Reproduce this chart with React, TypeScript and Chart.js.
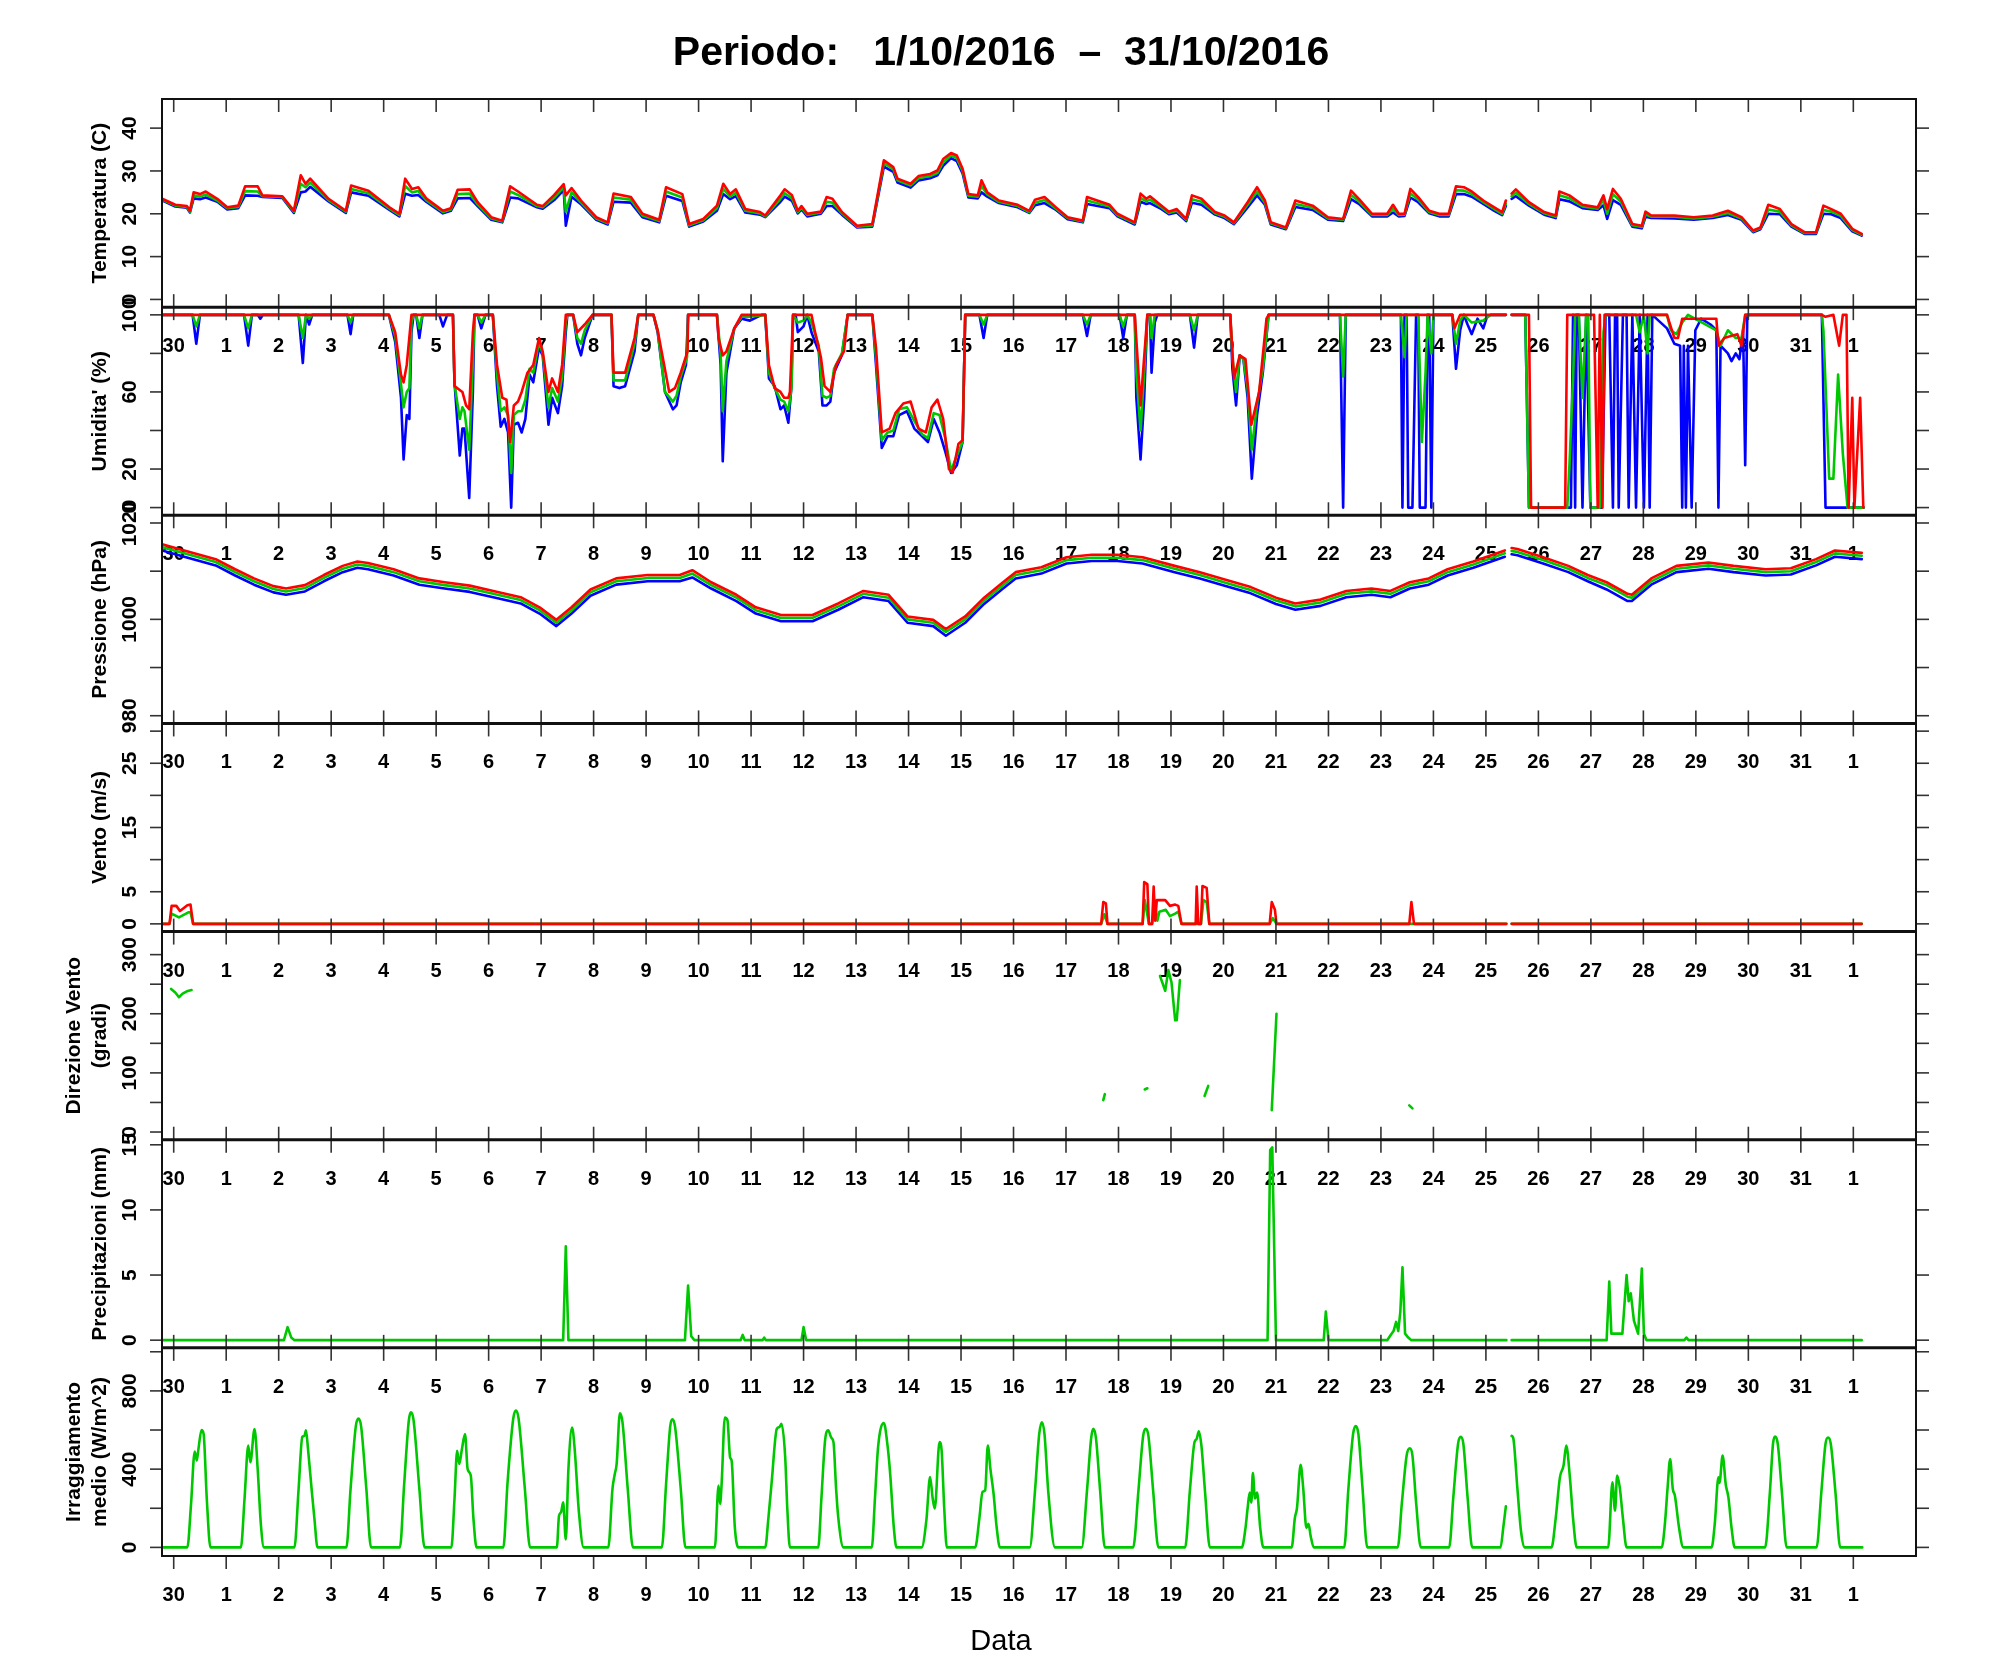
import React, { useEffect, useRef } from 'react';
import { Chart, registerables } from 'chart.js';
Chart.register(...registerables);

type P = [number, number | null];

// ---------- x axis (days; 0 = 30 Sep 00:00, 1 = 1 Oct, ... 32 = 1 Nov) ----------
const dayLabels = ['30','1','2','3','4','5','6','7','8','9','10','11','12','13','14','15','16','17','18','19','20','21','22','23','24','25','26','27','28','29','30','31','1'];
const xMin = -0.223;
const xMax = 33.194;

// ---------- y ticks / labels per panel ----------
const tempTicks = [0, 10, 20, 30, 40];
const tempLabels = [0, 10, 20, 30, 40];
const humTicks = [0, 20, 40, 60, 80, 100];
const humLabels = [0, 20, 60, 100];
const presTicks = [980, 990, 1000, 1010, 1020];
const presLabels = [980, 1000, 1020];
const windTicks = [0, 5, 10, 15, 20, 25, 30];
const windLabels = [0, 5, 15, 25];
const dirTicks = [0, 50, 100, 150, 200, 250, 300];
const dirLabels = [0, 100, 200, 300];
const rainTicks = [0, 5, 10, 15];
const rainLabels = [0, 5, 10, 15];
const irrTicks = [0, 200, 400, 600, 800, 1000];
const irrLabels = [0, 400, 800];

// ---------- Temperature (C) ----------
const tempTime = [
  -0.22, 0.03, 0.25, 0.31, 0.38, 0.50, 0.61, 0.83, 1.02, 1.23,
  1.36, 1.60, 1.69, 2.07, 2.29, 2.42, 2.51, 2.60, 2.95, 3.28,
  3.38, 3.71, 4.11, 4.30, 4.41, 4.54, 4.66, 4.81, 5.13, 5.28,
  5.41, 5.64, 5.79, 6.05, 6.26, 6.41, 6.56, 6.92, 7.03, 7.25,
  7.43, 7.47, 7.58, 7.76, 8.05, 8.27, 8.38, 8.71, 8.93, 9.25,
  9.38, 9.69, 9.82, 10.09, 10.35, 10.47, 10.60, 10.71, 10.89, 11.17,
  11.27, 11.56, 11.64, 11.78, 11.89, 11.96, 12.07, 12.33, 12.44, 12.55,
  12.73, 13.02, 13.31, 13.53, 13.71, 13.79, 14.04, 14.19, 14.41, 14.55,
  14.66, 14.81, 14.92, 15.03, 15.14, 15.32, 15.39, 15.50, 15.72, 16.08,
  16.30, 16.41, 16.59, 16.81, 17.03, 17.32, 17.40, 17.83, 17.98, 18.31,
  18.42, 18.53, 18.60, 18.82, 18.96, 19.11, 19.29, 19.40, 19.58, 19.84,
  20.02, 20.20, 20.46, 20.64, 20.79, 20.90, 21.19, 21.37, 21.70, 21.99,
  22.28, 22.43, 22.58, 22.83, 23.12, 23.23, 23.34, 23.45, 23.56, 23.71,
  23.92, 24.11, 24.29, 24.43, 24.58, 24.73, 24.95, 25.16, 25.31, 25.38,
  25.44, 25.49, 25.57, 25.82, 26.11, 26.33, 26.40, 26.59, 26.84, 27.13,
  27.24, 27.31, 27.42, 27.57, 27.79, 27.97, 28.04, 28.15, 28.59, 28.96,
  29.32, 29.61, 29.87, 30.09, 30.23, 30.38, 30.60, 30.82, 31.07, 31.29,
  31.43, 31.58, 31.76, 31.98, 32.16,
];
const tempMax = [
  23.5, 22.1, 21.8, 20.7, 25.0, 24.6, 25.2, 23.5, 21.5, 21.9,
  26.4, 26.4, 24.3, 24.1, 20.7, 29.0, 27.0, 28.2, 23.5, 20.7,
  26.6, 25.4, 21.5, 20.0, 28.2, 25.8, 26.2, 23.6, 20.7, 21.3,
  25.6, 25.7, 22.7, 19.2, 18.4, 26.4, 25.2, 22.1, 21.8, 24.4,
  26.9, 24.3, 26.0, 23.1, 19.2, 18.0, 24.7, 23.9, 20.0, 18.6,
  26.2, 24.6, 17.6, 18.8, 21.9, 27.0, 24.6, 25.7, 21.1, 20.4,
  19.6, 24.3, 25.7, 24.3, 20.7, 21.8, 20.0, 20.5, 23.9, 23.5,
  20.4, 17.2, 17.6, 32.5, 30.9, 28.2, 27.0, 28.8, 29.3, 30.1,
  32.8, 34.2, 33.6, 30.5, 24.6, 24.3, 27.8, 25.0, 23.1, 22.1,
  20.7, 23.3, 23.9, 21.5, 19.2, 18.4, 23.9, 22.1, 20.0, 18.0,
  24.7, 23.5, 24.1, 21.9, 20.5, 21.1, 18.8, 24.3, 23.5, 20.4,
  19.6, 18.0, 22.7, 26.2, 23.1, 18.0, 16.8, 23.1, 21.9, 19.2,
  18.8, 25.4, 23.5, 20.0, 20.0, 22.1, 20.0, 20.0, 25.8, 23.9,
  20.7, 20.0, 20.0, 26.4, 26.2, 25.2, 23.1, 21.5, 20.4, 23.1,
  null, 24.7, 25.7, 22.7, 20.4, 19.6, 25.2, 24.3, 22.1, 21.5,
  24.3, 21.1, 25.8, 23.5, 17.6, 17.2, 20.5, 19.6, 19.6, 19.2,
  19.6, 20.7, 19.2, 16.1, 16.8, 22.1, 21.1, 17.6, 15.7, 15.7,
  21.9, 21.1, 20.0, 16.5, 15.3,
];
const tempMean = [
  23.3, 21.9, 21.6, 20.5, 24.3, 24.0, 24.5, 23.1, 21.3, 21.6,
  25.3, 25.2, 24.1, 23.9, 20.5, 27.0, 26.2, 27.3, 23.2, 20.5,
  25.8, 24.8, 21.2, 19.7, 26.5, 25.0, 25.3, 23.2, 20.4, 21.0,
  24.6, 24.7, 22.2, 18.9, 18.2, 25.2, 24.4, 21.8, 21.5, 23.8,
  26.2, 20.5, 25.0, 22.6, 18.9, 17.8, 23.8, 23.3, 19.6, 18.3,
  25.2, 23.8, 17.3, 18.5, 21.3, 25.8, 24.0, 24.9, 20.7, 20.1,
  19.4, 23.5, 24.8, 23.6, 20.4, 21.4, 19.7, 20.3, 22.8, 22.6,
  20.1, 17.0, 17.3, 31.8, 30.4, 27.8, 26.6, 28.3, 28.8, 29.5,
  32.0, 33.6, 33.0, 30.0, 24.2, 24.0, 26.5, 24.5, 22.8, 21.8,
  20.4, 22.6, 23.2, 21.2, 19.0, 18.2, 23.1, 21.7, 19.7, 17.8,
  23.7, 22.9, 23.3, 21.5, 20.2, 20.7, 18.6, 23.4, 22.8, 20.1,
  19.3, 17.8, 22.1, 25.2, 22.6, 17.8, 16.6, 22.3, 21.4, 18.9,
  18.6, 24.4, 22.9, 19.7, 19.7, 21.2, 19.7, 19.8, 24.8, 23.3,
  20.4, 19.7, 19.7, 25.5, 25.4, 24.6, 22.7, 21.1, 20.0, 22.4,
  null, 24.1, 24.9, 22.3, 20.1, 19.3, 24.3, 23.6, 21.7, 21.2,
  23.2, 20.0, 24.6, 22.8, 17.3, 16.9, 19.9, 19.3, 19.3, 18.9,
  19.3, 20.2, 18.9, 15.9, 16.6, 21.0, 20.5, 17.3, 15.5, 15.5,
  20.9, 20.5, 19.5, 16.2, 15.1,
];
const tempMin = [
  23.1, 21.7, 21.4, 20.3, 23.6, 23.4, 23.8, 22.8, 21.0, 21.3,
  24.3, 24.2, 23.9, 23.7, 20.2, 25.0, 25.2, 26.3, 22.9, 20.2,
  25.0, 24.2, 20.9, 19.4, 24.7, 24.2, 24.4, 22.8, 20.1, 20.7,
  23.6, 23.7, 21.8, 18.6, 18.0, 23.8, 23.6, 21.5, 21.2, 23.2,
  25.5, 17.2, 24.0, 22.2, 18.6, 17.5, 22.8, 22.6, 19.2, 18.0,
  24.2, 23.0, 17.0, 18.2, 20.7, 24.6, 23.4, 24.1, 20.3, 19.8,
  19.2, 22.8, 24.0, 23.0, 20.1, 21.0, 19.4, 20.0, 21.8, 21.8,
  19.8, 16.8, 17.0, 31.0, 29.8, 27.3, 26.1, 27.8, 28.3, 29.0,
  31.2, 33.0, 32.3, 29.4, 23.8, 23.6, 25.0, 24.0, 22.5, 21.5,
  20.2, 22.0, 22.5, 20.9, 18.7, 18.0, 22.3, 21.3, 19.4, 17.5,
  22.8, 22.3, 22.5, 21.1, 19.9, 20.3, 18.3, 22.6, 22.1, 19.8,
  19.0, 17.6, 21.5, 24.3, 22.1, 17.5, 16.4, 21.6, 20.9, 18.6,
  18.3, 23.4, 22.3, 19.4, 19.4, 20.3, 19.4, 19.5, 23.8, 22.7,
  20.1, 19.4, 19.4, 24.6, 24.6, 24.0, 22.3, 20.7, 19.7, 21.8,
  null, 23.5, 24.1, 21.9, 19.8, 19.0, 23.4, 22.9, 21.3, 20.9,
  22.0, 18.8, 23.2, 22.1, 17.0, 16.6, 19.3, 19.0, 18.9, 18.6,
  19.0, 19.7, 18.6, 15.7, 16.4, 20.0, 19.9, 17.0, 15.3, 15.3,
  20.0, 19.9, 19.0, 15.9, 14.9,
];

// ---------- Humidity (%) ----------
const humMin: P[] = [
  [-0.22,100],[0.36,100],[0.43,85],[0.5,100],
  [1.34,100],[1.42,84],[1.49,100],[1.6,100],[1.65,98],[1.7,100],
  [2.38,100],[2.46,75],[2.52,100],[2.58,95],[2.64,100],
  [3.31,100],[3.37,90],[3.42,100],
  [4.1,100],[4.22,86],[4.33,57],[4.38,25],[4.44,48],[4.49,46],[4.53,91],[4.57,100],
  [4.62,100],[4.68,88],[4.74,100],
  [5.06,100],[5.13,94],[5.21,100],
  [5.32,100],[5.35,65],[5.45,27],[5.5,41],[5.54,41],[5.63,5],[5.7,60],[5.73,100],
  [5.79,100],[5.86,93],[5.94,100],
  [6.08,100],[6.16,63],[6.23,42],[6.3,46],[6.37,39],[6.43,0],[6.48,43],[6.56,44],[6.63,39],[6.7,46],[6.78,69],[6.85,65],[6.96,83],[7.03,79],[7.14,43],[7.21,57],[7.32,49],[7.4,63],[7.47,91],[7.5,100],
  [7.61,100],[7.69,85],[7.76,79],[7.83,88],[7.98,100],
  [8.34,100],[8.38,63],[8.49,62],[8.6,63],[8.78,81],[8.85,100],
  [9.14,100],[9.22,91],[9.36,60],[9.51,51],[9.58,53],[9.66,65],[9.76,74],[9.8,100],
  [10.35,100],[10.42,74],[10.46,24],[10.53,70],[10.68,93],[10.82,98],[10.98,97],[11.2,100],
  [11.27,100],[11.34,67],[11.45,63],[11.56,51],[11.63,53],[11.71,44],[11.77,63],[11.8,100],
  [11.85,100],[11.89,91],[12.0,94],[12.07,100],
  [12.15,91],[12.29,81],[12.36,53],[12.44,53],[12.51,55],[12.58,70],[12.73,79],[12.84,100],
  [13.31,100],[13.38,74],[13.49,31],[13.6,37],[13.71,37],[13.82,48],[13.97,50],[14.11,41],[14.26,37],[14.37,34],[14.48,46],[14.59,39],[14.7,29],[14.81,18],[14.92,22],[15.03,34],[15.08,100],
  [15.35,100],[15.43,88],[15.5,100],
  [17.32,100],[17.4,89],[17.47,100],
  [18.02,100],[18.09,88],[18.16,100],
  [18.31,100],[18.34,57],[18.42,25],[18.49,57],[18.55,100],[18.6,100],[18.63,70],[18.69,96],[18.74,100],
  [19.36,100],[19.44,83],[19.51,100],
  [20.13,100],[20.17,72],[20.24,53],[20.31,79],[20.38,77],[20.46,57],[20.54,15],[20.64,48],[20.75,70],[20.86,100],
  [22.22,100],[22.28,0],[22.33,100],
  [23.38,100],[23.41,0],[23.45,100],[23.49,100],[23.52,0],[23.6,0],[23.67,100],[23.71,100],[23.74,0],[23.85,0],[23.89,100],[23.92,100],[23.96,0],[24.0,100],
  [24.36,100],[24.43,72],[24.51,92],[24.58,100],[24.65,95],[24.73,90],[24.84,98],[24.95,93],[25.02,99],[25.09,100],[25.38,100],[25.44,null],
  [25.49,100],[25.75,100],[25.82,0],[26.62,0],[26.66,100],[26.7,0],[26.73,100],[26.77,100],[26.84,0],[26.91,100],[26.99,0],[27.21,0],[27.28,100],[27.35,100],[27.42,0],[27.46,100],[27.5,100],[27.53,0],[27.61,100],[27.68,100],[27.72,0],[27.79,100],[27.86,0],[27.93,100],[28.01,0],[28.08,100],[28.12,0],[28.17,100],
  [28.45,93],[28.59,85],[28.7,84],[28.74,0],[28.77,84],[28.81,0],[28.85,84],[28.92,0],[28.99,92],[29.1,98],[29.28,95],[29.39,92],[29.43,0],[29.47,84],[29.61,80],[29.68,76],[29.76,80],[29.83,77],[29.9,92],[29.94,22],[29.98,100],
  [31.4,100],[31.47,0],[32.2,0],
];
const humMean: P[] = [
  [-0.22,100],[0.36,100],[0.43,94],[0.5,100],[1.34,100],[1.42,93],[1.49,100],[2.38,100],[2.46,88],[2.52,100],[2.58,98],[2.64,100],[3.31,100],[3.37,96],[3.42,100],
  [4.1,100],[4.22,89],[4.33,64],[4.38,52],[4.44,60],[4.49,62],[4.53,96],[4.57,100],[4.62,100],[4.68,93],[4.74,100],
  [5.32,100],[5.35,64],[5.45,46],[5.5,52],[5.54,50],[5.63,30],[5.7,75],[5.73,100],[5.79,100],[5.86,96],[5.94,100],
  [6.08,100],[6.16,69],[6.23,50],[6.3,52],[6.37,48],[6.43,18],[6.48,48],[6.56,50],[6.63,50],[6.7,56],[6.78,72],[6.85,70],[6.96,86],[7.03,80],[7.14,52],[7.21,62],[7.32,55],[7.4,68],[7.47,96],[7.5,100],
  [7.61,100],[7.69,88],[7.76,85],[7.83,92],[7.98,100],
  [8.34,100],[8.38,66],[8.49,66],[8.6,66],[8.78,85],[8.85,100],
  [9.14,100],[9.22,92],[9.36,60],[9.51,55],[9.58,58],[9.66,68],[9.78,78],[9.8,100],
  [10.35,100],[10.42,80],[10.46,50],[10.53,76],[10.68,93],[10.82,99],[10.98,99],[11.27,100],
  [11.34,70],[11.45,62],[11.56,56],[11.63,55],[11.71,50],[11.77,62],[11.8,100],[11.89,96],[12.0,97],[12.07,100],
  [12.15,96],[12.29,84],[12.36,58],[12.44,57],[12.51,58],[12.58,72],[12.73,80],[12.84,100],
  [13.31,100],[13.38,78],[13.49,35],[13.6,39],[13.71,40],[13.82,51],[13.97,52],[14.11,45],[14.26,38],[14.37,36],[14.48,49],[14.59,48],[14.7,36],[14.81,19],[14.92,27],[15.03,34],[15.08,100],
  [15.35,100],[15.43,95],[15.5,100],[17.32,100],[17.4,95],[17.47,100],[18.02,100],[18.09,94],[18.16,100],
  [18.31,100],[18.34,70],[18.42,40],[18.49,70],[18.55,100],[18.6,100],[18.63,88],[18.69,100],
  [19.36,100],[19.44,92],[19.51,100],
  [20.13,100],[20.17,78],[20.24,60],[20.31,79],[20.38,77],[20.46,62],[20.54,30],[20.64,54],[20.75,72],[20.86,100],
  [22.22,100],[22.28,68],[22.33,100],
  [23.38,100],[23.45,78],[23.49,100],[23.71,100],[23.78,34],[23.85,70],[23.89,100],[23.96,80],[24.0,100],
  [24.36,100],[24.43,85],[24.51,97],[24.58,100],[24.73,96],[24.95,97],[25.09,100],[25.38,100],[25.44,null],
  [25.49,100],[25.75,100],[25.82,0],[26.55,0],[26.59,21],[26.66,67],[26.7,100],[26.77,100],[26.84,57],[26.91,100],[26.95,100],[26.99,0],[27.17,0],[27.24,91],[27.28,100],[27.86,100],[27.93,91],[28.01,100],[28.08,80],[28.12,100],
  [28.45,100],[28.52,92],[28.63,90],[28.74,96],[28.85,100],[29.39,92],[29.47,84],[29.61,92],[29.76,88],[29.87,88],[29.94,100],
  [31.4,100],[31.43,92],[31.54,15],[31.62,15],[31.71,69],[31.8,28],[31.89,0],[32.2,0],
];
const humMax: P[] = [
  [-0.22,100],[4.1,100],[4.22,91],[4.33,69],[4.38,65],[4.44,74],[4.53,100],
  [5.32,100],[5.35,63],[5.5,60],[5.57,53],[5.63,51],[5.7,91],[5.73,100],
  [6.08,100],[6.16,74],[6.26,57],[6.34,56],[6.41,34],[6.48,53],[6.56,55],[6.63,60],[6.74,70],[6.85,74],[6.96,88],[7.03,81],[7.14,60],[7.21,67],[7.32,60],[7.4,74],[7.47,100],
  [7.61,100],[7.69,91],[7.83,95],[7.98,100],
  [8.34,100],[8.38,70],[8.6,70],[8.78,88],[8.85,100],
  [9.14,100],[9.22,92],[9.44,60],[9.55,62],[9.66,70],[9.79,81],[9.8,100],
  [10.35,100],[10.38,88],[10.46,79],[10.53,81],[10.68,93],[10.82,100],
  [11.27,100],[11.34,74],[11.45,62],[11.56,60],[11.63,57],[11.71,57],[11.74,60],[11.8,100],
  [12.15,100],[12.22,91],[12.33,78],[12.4,63],[12.51,60],[12.62,74],[12.77,81],[12.84,100],
  [13.31,100],[13.38,83],[13.49,39],[13.64,41],[13.75,49],[13.9,54],[14.04,55],[14.19,41],[14.33,39],[14.44,52],[14.55,56],[14.66,46],[14.77,20],[14.84,18],[14.95,33],[15.03,35],[15.08,100],
  [18.31,100],[18.42,53],[18.55,100],
  [20.13,100],[20.2,67],[20.31,79],[20.42,77],[20.53,43],[20.68,60],[20.82,98],[20.86,100],
  [24.36,100],[24.4,93],[24.51,100],[25.38,100],[25.44,null],
  [25.49,100],[25.82,100],[25.86,0],[26.51,0],[26.55,100],[27.06,100],[27.13,0],[27.17,100],[27.22,0],[27.26,100],[28.45,100],[28.59,88],[28.66,88],[28.74,98],[29.39,98],[29.43,84],[29.54,88],[29.79,90],[29.87,84],[29.94,100],
  [31.4,100],[31.47,99],[31.62,100],[31.73,84],[31.8,100],[31.87,100],[31.91,0],[31.98,57],[32.02,0],[32.13,57],[32.19,0],
];

// ---------- Pressure (hPa) ----------
const presTime = [
  -0.22, 0.20, 0.80, 1.17, 1.53, 1.90, 2.14, 2.50, 2.86, 3.22,
  3.50, 3.70, 4.19, 4.68, 5.16, 5.64, 6.13, 6.61, 6.97, 7.29,
  7.58, 7.94, 8.43, 9.03, 9.64, 9.88, 10.24, 10.72, 11.09, 11.57,
  12.17, 12.66, 13.14, 13.62, 13.98, 14.47, 14.71, 15.08, 15.44, 15.80,
  16.04, 16.53, 17.01, 17.49, 17.98, 18.46, 19.07, 19.55, 20.04, 20.52,
  21.00, 21.37, 21.85, 22.34, 22.82, 23.18, 23.55, 23.91, 24.27, 24.76,
  25.36, 25.44, 25.49, 25.60, 26.09, 26.57, 26.94, 27.30, 27.70, 27.78,
  28.15, 28.63, 29.24, 29.72, 30.33, 30.81, 31.29, 31.65, 32.16,
];
const presMax = [
  1015.6, 1014.3, 1012.5, 1010.4, 1008.5, 1006.9, 1006.4, 1007.1, 1009.2, 1011.1,
  1012.0, 1011.7, 1010.4, 1008.5, 1007.7, 1007.0, 1005.8, 1004.6, 1002.5, 999.9,
  1002.5, 1006.2, 1008.5, 1009.2, 1009.2, 1010.2, 1007.7, 1005.1, 1002.5, 1000.9,
  1000.9, 1003.3, 1005.9, 1005.1, 1000.6, 999.9, 998.0, 1000.6, 1004.5, 1007.7,
  1009.8, 1010.8, 1012.9, 1013.4, 1013.4, 1012.9, 1011.1, 1009.8, 1008.2, 1006.7,
  1004.5, 1003.3, 1004.1, 1005.9, 1006.4, 1005.9, 1007.7, 1008.5, 1010.4, 1012.0,
  1014.3, null, 1014.8, 1014.6, 1012.9, 1011.1, 1009.2, 1007.7, 1005.3, 1005.1,
  1008.5, 1011.1, 1011.8, 1011.1, 1010.4, 1010.6, 1012.5, 1014.3, 1013.8,
];
const presMean = [
  1015.0, 1013.7, 1011.9, 1009.8, 1007.9, 1006.3, 1005.8, 1006.5, 1008.6, 1010.5,
  1011.4, 1011.1, 1009.8, 1007.9, 1007.1, 1006.4, 1005.2, 1004.0, 1001.9, 999.3,
  1001.9, 1005.6, 1007.9, 1008.6, 1008.6, 1009.5, 1007.1, 1004.5, 1001.9, 1000.3,
  1000.3, 1002.7, 1005.3, 1004.5, 1000.0, 999.3, 997.4, 1000.0, 1003.9, 1007.1,
  1009.2, 1010.2, 1012.3, 1012.8, 1012.8, 1012.3, 1010.5, 1009.2, 1007.6, 1006.1,
  1003.9, 1002.7, 1003.5, 1005.3, 1005.8, 1005.3, 1007.1, 1007.9, 1009.8, 1011.4,
  1013.7, null, 1014.2, 1014.0, 1012.3, 1010.5, 1008.6, 1007.1, 1004.7, 1004.5,
  1007.9, 1010.5, 1011.2, 1010.5, 1009.8, 1010.0, 1011.9, 1013.7, 1013.2,
];
const presMin = [
  1014.3, 1013.0, 1011.2, 1009.1, 1007.2, 1005.6, 1005.1, 1005.8, 1007.9, 1009.8,
  1010.7, 1010.4, 1009.1, 1007.2, 1006.4, 1005.7, 1004.5, 1003.3, 1001.2, 998.6,
  1001.2, 1004.9, 1007.2, 1007.9, 1007.9, 1008.7, 1006.4, 1003.8, 1001.2, 999.6,
  999.6, 1002.0, 1004.6, 1003.8, 999.3, 998.6, 996.6, 999.3, 1003.2, 1006.4,
  1008.5, 1009.5, 1011.6, 1012.1, 1012.1, 1011.6, 1009.8, 1008.5, 1006.9, 1005.4,
  1003.2, 1002.0, 1002.8, 1004.6, 1005.1, 1004.6, 1006.4, 1007.2, 1009.1, 1010.7,
  1013.0, null, 1013.5, 1013.3, 1011.6, 1009.8, 1007.9, 1006.2, 1003.8, 1003.8,
  1007.2, 1009.8, 1010.5, 1009.8, 1009.1, 1009.3, 1011.2, 1013.0, 1012.5,
];

// ---------- Wind speed (m/s) ----------
const windMax: P[] = [
  [-0.22,0],[-0.08,0],[-0.04,2.8],[0.05,2.8],[0.12,2.0],[0.26,2.9],[0.32,3.0],[0.37,0],
  [17.67,0],[17.71,3.4],[17.76,3.2],[17.79,0],
  [18.46,0],[18.49,6.5],[18.55,6.2],[18.58,0],[18.64,0],[18.67,5.8],[18.7,0.5],[18.73,3.7],[18.89,3.7],[18.98,2.8],[19.08,3.0],[19.14,2.8],[19.2,0],
  [19.47,0],[19.49,5.8],[19.52,0],[19.57,0],[19.6,5.9],[19.68,5.6],[19.73,0],
  [20.88,0],[20.92,3.4],[20.98,2.2],[21.01,0],
  [23.54,0],[23.58,3.4],[23.63,0],
  [25.39,0],[25.44,null],[25.49,0],[32.16,0],
];
const windMean: P[] = [
  [-0.22,0],[-0.08,0],[-0.04,1.6],[0.1,1.0],[0.28,1.8],[0.32,1.8],[0.37,0],
  [17.67,0],[17.73,1.5],[17.79,0],
  [18.46,0],[18.5,3.7],[18.58,0],[18.64,0],[18.7,2.8],[18.74,0.5],[18.78,1.9],[18.9,2.2],[18.98,1.2],[19.08,1.6],[19.14,1.9],[19.2,0],
  [19.57,0],[19.62,3.7],[19.68,3.4],[19.73,0],
  [20.88,0],[20.94,0.9],[21.01,0],
  [25.39,0],[25.44,null],[25.49,0],[32.16,0],
];

// ---------- Wind direction (degrees) ----------
const windDir: P[] = [
  [-0.05,242],[0.03,236],[0.1,228],[0.17,234],[0.25,238],[0.34,240],[0.4,null],
  [17.71,54],[17.74,64],[17.8,null],
  [18.5,72],[18.55,74],[18.6,null],
  [18.79,264],[18.89,239],[18.95,274],[19.01,253],[19.08,189],[19.11,189],[19.17,257],[19.3,null],
  [19.64,61],[19.71,78],[19.8,null],
  [20.92,37],[21.01,200],[21.1,null],
  [23.54,45],[23.6,40],
];

// ---------- Rain (mm) ----------
const rain: P[] = [
  [-0.22,0],[2.1,0],[2.17,1.0],[2.24,0.2],[2.3,0],
  [7.42,0],[7.47,7.2],[7.52,0],
  [9.74,0],[9.8,4.2],[9.86,0.3],[9.92,0],
  [10.8,0],[10.84,0.4],[10.88,0],
  [11.22,0],[11.25,0.2],[11.28,0],
  [11.96,0],[12.0,1.0],[12.05,0],
  [20.84,0],[20.89,14.6],[20.93,14.8],[21.0,0],
  [21.91,0],[21.95,2.2],[22.0,0],
  [23.12,0],[23.17,0.3],[23.24,0.7],[23.29,1.4],[23.33,0.7],[23.37,2.2],[23.41,5.6],[23.46,0.5],[23.52,0.2],[23.58,0],
  [25.39,0],[25.44,null],[25.49,0],
  [27.3,0],[27.35,4.5],[27.39,0.5],[27.6,0.5],[27.68,5.0],[27.72,3.0],[27.76,3.6],[27.82,1.5],[27.9,0.5],[27.97,5.5],[28.01,0.5],[28.06,0],
  [28.78,0],[28.82,0.2],[28.86,0],[32.16,0],
];

// ---------- Mean irradiance (W/m^2) ----------
const irradiance: P[] = [
  [-0.22,0],[0.26,0],[0.33,220],[0.4,490],[0.44,445],[0.47,500],[0.53,600],[0.57,580],[0.63,250],[0.7,0],
  [1.28,0],[1.35,250],[1.42,520],[1.46,435],[1.54,605],[1.6,400],[1.66,120],[1.72,0],
  [2.3,0],[2.38,300],[2.45,565],[2.49,570],[2.52,598],[2.56,500],[2.63,290],[2.68,150],[2.74,0],
  [3.29,0],[3.37,300],[3.47,620],[3.52,658],[3.57,620],[3.67,300],[3.76,0],
  [4.31,0],[4.39,320],[4.48,650],[4.52,690],[4.57,650],[4.68,300],[4.78,0],
  [5.29,0],[5.35,250],[5.4,494],[5.44,426],[5.49,500],[5.55,580],[5.6,400],[5.66,367],[5.71,150],[5.77,0],
  [6.28,0],[6.36,330],[6.47,660],[6.52,700],[6.57,660],[6.69,300],[6.79,0],
  [7.3,0],[7.34,160],[7.38,180],[7.42,230],[7.47,40],[7.52,400],[7.59,613],[7.64,500],[7.72,180],[7.81,0],
  [8.28,0],[8.36,300],[8.4,370],[8.44,430],[8.5,685],[8.55,640],[8.65,300],[8.75,0],
  [9.3,0],[9.38,320],[9.46,620],[9.5,655],[9.55,620],[9.66,300],[9.75,0],
  [10.31,0],[10.38,316],[10.41,222],[10.44,330],[10.5,664],[10.55,650],[10.6,460],[10.63,443],[10.69,105],[10.76,0],
  [11.27,0],[11.33,150],[11.39,326],[11.49,606],[11.54,615],[11.58,632],[11.65,462],[11.69,200],[11.74,0],
  [12.28,0],[12.34,250],[12.41,547],[12.47,598],[12.53,560],[12.57,538],[12.62,300],[12.66,156],[12.76,0],
  [13.3,0],[13.36,250],[13.42,513],[13.53,635],[13.6,520],[13.65,377],[13.72,100],[13.77,0],
  [14.25,0],[14.34,139],[14.41,360],[14.46,250],[14.5,199],[14.59,538],[14.63,496],[14.68,200],[14.73,0],
  [15.27,0],[15.35,150],[15.41,284],[15.46,292],[15.51,521],[15.56,400],[15.62,275],[15.68,100],[15.74,0],
  [16.31,0],[16.41,292],[16.49,580],[16.54,640],[16.59,580],[16.66,292],[16.79,0],
  [17.3,0],[17.4,290],[17.48,560],[17.52,606],[17.57,560],[17.65,290],[17.74,0],
  [18.28,0],[18.38,290],[18.47,570],[18.52,606],[18.57,570],[18.66,290],[18.76,0],
  [19.27,0],[19.36,290],[19.45,540],[19.49,555],[19.53,594],[19.58,520],[19.65,280],[19.74,0],
  [20.35,0],[20.42,100],[20.46,200],[20.5,280],[20.53,230],[20.56,380],[20.6,250],[20.64,280],[20.7,100],[20.76,0],
  [21.3,0],[21.36,150],[21.4,200],[21.47,422],[21.52,300],[21.58,100],[21.62,120],[21.66,60],[21.72,0],
  [22.3,0],[22.38,300],[22.47,580],[22.52,620],[22.57,580],[22.65,300],[22.74,0],
  [23.32,0],[23.4,230],[23.49,470],[23.55,506],[23.6,470],[23.67,230],[23.76,0],
  [24.3,0],[24.38,260],[24.47,530],[24.52,565],[24.57,530],[24.65,260],[24.74,0],
  [25.28,0],[25.33,100],[25.38,210],[25.44,null],[25.49,570],[25.52,560],[25.6,300],[25.67,80],[25.74,0],
  [26.25,0],[26.33,150],[26.41,358],[26.48,420],[26.53,520],[26.6,358],[26.66,150],[26.73,0],
  [27.33,0],[27.41,333],[27.46,188],[27.5,367],[27.55,307],[27.61,150],[27.68,0],
  [28.35,0],[28.41,120],[28.46,300],[28.51,452],[28.56,300],[28.6,265],[28.68,100],[28.76,0],
  [29.3,0],[29.36,120],[29.43,358],[29.45,330],[29.51,469],[29.57,320],[29.62,256],[29.68,100],[29.74,0],
  [30.32,0],[30.41,280],[30.47,530],[30.51,566],[30.56,530],[30.64,280],[30.73,0],
  [31.3,0],[31.39,280],[31.47,530],[31.52,562],[31.57,530],[31.66,280],[31.75,0],
  [32.17,0],
];

// ---------- styling / layout ----------
const FONT = '"Liberation Sans", Arial, Helvetica, sans-serif';
const RED = '#FF0000';
const GREEN = '#00C800';
const BLUE = '#0000FF';
const W = 1991;
const H = 1680;

type Panel = { id: string; min: number; max: number; ticks: number[]; labels: number[]; title: string[] };
const panels: Panel[] = [
  { id: 'yT', min: -1.8, max: 46.8, ticks: tempTicks, labels: tempLabels, title: ['Temperatura (C)'] },
  { id: 'yH', min: -4, max: 104, ticks: humTicks, labels: humLabels, title: ["Umidita' (%)"] },
  { id: 'yP', min: 978.4, max: 1021.6, ticks: presTicks, labels: presLabels, title: ['Pressione (hPa)'] },
  { id: 'yW', min: -1.2, max: 31.2, ticks: windTicks, labels: windLabels, title: ['Vento (m/s)'] },
  { id: 'yD', min: -13, max: 339, ticks: dirTicks, labels: dirLabels, title: ['Direzione Vento', '(gradi)'] },
  { id: 'yR', min: -0.59, max: 15.39, ticks: rainTicks, labels: rainLabels, title: ['Precipitazioni (mm)'] },
  { id: 'yI', min: -44, max: 1020, ticks: irrTicks, labels: irrLabels, title: ['Irraggiamento', 'medio (W/m^2)'] },
];

const zip = (ts: number[], vs: (number | null)[]) => ts.map((x, i) => ({ x, y: vs[i] }));
const pts = (arr: P[]) => arr.map(([x, y]) => ({ x, y }));

function line(data: any[], color: string, yAxisID: string, order: number, extra: any = {}) {
  return {
    data, borderColor: color, backgroundColor: color, borderWidth: 2.6, pointRadius: 0,
    pointHoverRadius: 0, fill: false, tension: 0, yAxisID, xAxisID: 'x', spanGaps: false,
    borderCapStyle: 'round', borderJoinStyle: 'round', order, ...extra,
  };
}

const framePlugin = {
  id: 'rFrames',
  beforeDatasetsDraw(chart: any) {
    const ctx = chart.ctx as CanvasRenderingContext2D;
    const xs = chart.scales.x;
    ctx.save();
    ctx.fillStyle = '#000';
    ctx.font = `bold 20px ${FONT}`;
    ctx.textAlign = 'center';
    ctx.textBaseline = 'alphabetic';
    panels.forEach((p) => {
      const s = chart.scales[p.id];
      dayLabels.forEach((lab, d) => {
        ctx.fillText(lab, xs.getPixelForValue(d), s.bottom + 45);
      });
    });
    ctx.restore();
  },
  afterDatasetsDraw(chart: any) {
    const ctx = chart.ctx as CanvasRenderingContext2D;
    const xs = chart.scales.x;
    const area = chart.chartArea;
    const L = area.left;
    const R = area.right;
    ctx.save();
    const seg = (x1: number, y1: number, x2: number, y2: number) => {
      ctx.beginPath(); ctx.moveTo(x1, y1); ctx.lineTo(x2, y2); ctx.stroke();
    };
    panels.forEach((p, i) => {
      const s = chart.scales[p.id];
      const top = s.top;
      const bot = s.bottom;
      ctx.strokeStyle = '#333';
      ctx.lineWidth = 1.6;
      dayLabels.forEach((_, d) => {
        const px = xs.getPixelForValue(d);
        seg(px, top, px, top + 13);
        if (i < panels.length - 1) seg(px, bot, px, bot - 13);
        else seg(px, bot, px, bot + 13);
      });
      p.ticks.forEach((v) => {
        const py = s.getPixelForValue(v);
        seg(L - 12, py, L, py);
        seg(R, py, R + 13, py);
      });
      ctx.fillStyle = '#000';
      ctx.font = `bold 21px ${FONT}`;
      ctx.textAlign = 'center';
      ctx.textBaseline = 'alphabetic';
      p.labels.forEach((v) => {
        const py = s.getPixelForValue(v);
        ctx.save(); ctx.translate(136, py); ctx.rotate(-Math.PI / 2);
        ctx.fillText(String(v), 0, 0); ctx.restore();
      });
      const cy = (top + bot) / 2;
      const xsT = p.title.length === 1 ? [106] : [80, 106];
      p.title.forEach((t, k) => {
        ctx.save(); ctx.translate(xsT[k], cy); ctx.rotate(-Math.PI / 2);
        ctx.fillText(t, 0, 0); ctx.restore();
      });
    });
    // frames
    ctx.strokeStyle = '#111';
    ctx.lineWidth = 2;
    ctx.strokeRect(L, area.top, R - L, area.bottom - area.top);
    ctx.lineWidth = 3;
    panels.slice(0, -1).forEach((p) => {
      const s = chart.scales[p.id];
      seg(L, s.bottom, R, s.bottom);
    });
    // titles
    ctx.fillStyle = '#000';
    ctx.textAlign = 'center';
    ctx.textBaseline = 'alphabetic';
    ctx.font = `bold 41px ${FONT}`;
    ctx.fillText('Periodo:   1/10/2016  \u2013  31/10/2016', 1001, 65);
    ctx.font = `29px ${FONT}`;
    ctx.fillText('Data', 1001, 1650);
    ctx.restore();
  },
};

export default function App() {
  const ref = useRef<HTMLCanvasElement | null>(null);
  useEffect(() => {
    if (!ref.current) return;
    const scales: any = {
      x: { type: 'linear', min: xMin, max: xMax, display: false, bounds: 'data' },
    };
    panels.forEach((p, i) => {
      scales[p.id] = {
        type: 'linear', position: 'left', stack: 'panels', stackWeight: 1, weight: 100 - i,
        min: p.min, max: p.max, bounds: 'data', display: true,
        grid: { display: false, drawTicks: false }, border: { display: false },
        ticks: { display: false }, title: { display: false },
        afterFit: (s: any) => { s.width = 0; },
      };
    });
    const datasets: any[] = [
      line(zip(tempTime, tempMin), BLUE, 'yT', 3),
      line(zip(tempTime, tempMean), GREEN, 'yT', 2),
      line(zip(tempTime, tempMax), RED, 'yT', 1),
      line(pts(humMin), BLUE, 'yH', 3),
      line(pts(humMean), GREEN, 'yH', 2),
      line(pts(humMax), RED, 'yH', 1),
      line(zip(presTime, presMin), BLUE, 'yP', 3),
      line(zip(presTime, presMean), GREEN, 'yP', 2),
      line(zip(presTime, presMax), RED, 'yP', 1),
      line(pts(windMean), GREEN, 'yW', 2),
      line(pts(windMax), RED, 'yW', 1),
      line(pts(windDir), GREEN, 'yD', 2),
      line(pts(rain), GREEN, 'yR', 2),
      line(pts(irradiance), GREEN, 'yI', 2, { cubicInterpolationMode: 'monotone' }),
    ];
    const chart = new Chart(ref.current, {
      type: 'line',
      data: { datasets },
      options: {
        animation: false,
        responsive: false,
        maintainAspectRatio: false,
        devicePixelRatio: 1,
        events: [],
        layout: { padding: { left: 162, right: W - 1916, top: 99, bottom: H - 1556 } },
        plugins: { legend: { display: false }, tooltip: { enabled: false }, title: { display: false } },
        scales,
      },
      plugins: [framePlugin],
    } as any);
    return () => chart.destroy();
  }, []);
  return (
    <div style={{ position: 'absolute', left: 0, top: 0, width: W, height: H, background: '#fff' }}>
      <canvas ref={ref} width={W} height={H} style={{ width: W, height: H, display: 'block' }} />
    </div>
  );
}
